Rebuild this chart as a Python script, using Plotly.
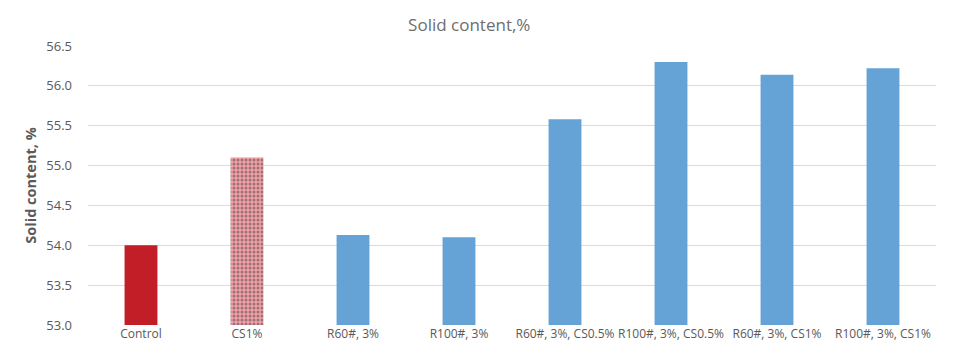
import plotly.graph_objects as go

categories = ["Control", "CS1%", "R60#, 3%", "R100#, 3%", "R60#, 3%, CS0.5%",
              "R100#, 3%, CS0.5%", "R60#, 3%, CS1%", "R100#, 3%, CS1%"]
values = [54.0, 55.1, 54.13, 54.10, 55.58, 56.30, 56.14, 56.22]
colors = ["#C21E28", "#F0A0A6", "#65A2D6", "#65A2D6", "#65A2D6", "#65A2D6", "#65A2D6", "#65A2D6"]
pattern_shapes = ["", ".", "", "", "", "", "", ""]
y_ticks = [53.0, 53.5, 54.0, 54.5, 55.0, 55.5, 56.0, 56.5]

fig = go.Figure(go.Bar(
    x=categories, y=values,
    marker=dict(color=colors, line=dict(width=0),
                pattern=dict(shape=pattern_shapes, fgcolor="#C8142A",
                             size=4, solidity=0.45, fillmode="overlay")),
    width=0.31,
))

fig.update_layout(
    width=955, height=355,
    margin=dict(l=80, r=27, t=38, b=38),
    paper_bgcolor="white", plot_bgcolor="white",
    title=dict(text="Solid content,%", x=0.483, xanchor="center", xref="container",
               y=0.952, yanchor="middle",
               font=dict(family="Open Sans, sans-serif", size=17, color="#6E6E6E")),
    font=dict(family="Open Sans, sans-serif", color="#595959"),
    showlegend=False,
)
fig.update_xaxes(showgrid=False, showline=False, ticks="", tickangle=0,
                 tickfont=dict(size=12, color="#595959"))
fig.update_yaxes(range=[53.0, 56.5], tickvals=y_ticks, tickformat=".1f",
                 showgrid=True, gridcolor="#DCDCDC", gridwidth=1, zeroline=False,
                 showline=False, ticks="", ticklabelstandoff=15, automargin=False,
                 tickfont=dict(size=13, color="#595959"),
                 title=dict(text="<b>Solid content, %</b>",
                            font=dict(size=14.5, color="#595959"), standoff=6))

fig.write_html("out.html")
